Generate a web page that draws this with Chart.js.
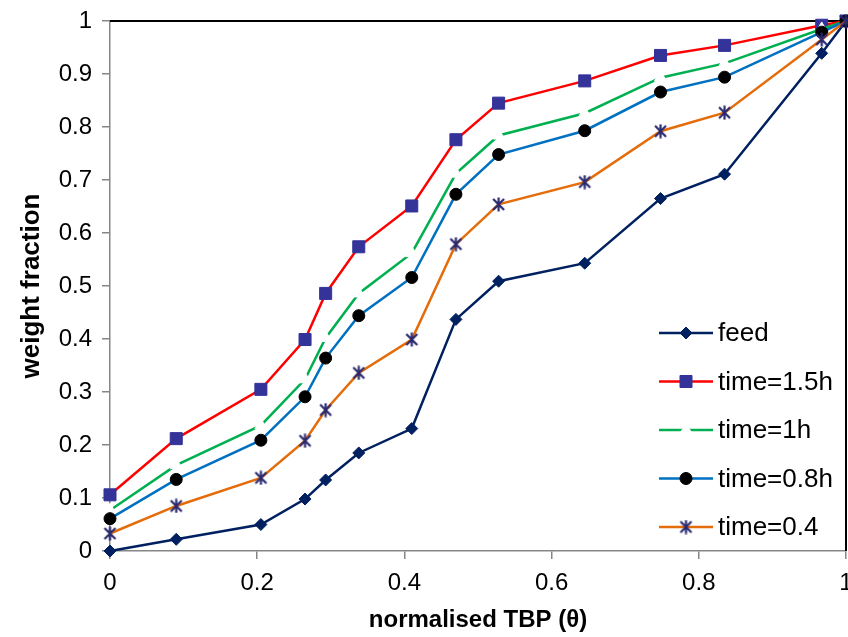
<!DOCTYPE html>
<html lang="en">
<head>
    <meta charset="utf-8" />
    <title>weight fraction vs normalised TBP</title>
    <style>
        body { margin: 0; background: #fff; }
        #wrap { width: 848px; height: 637px; }
    </style>
</head>
<body>
    <div id="wrap"><canvas id="tbpChart"></canvas></div>

    <script src="https://cdn.jsdelivr.net/npm/chart.js"></script>
    <script>
        // normalised TBP positions shared by every series
        const theta = [0, 0.09, 0.205, 0.265, 0.293, 0.338, 0.41, 0.47, 0.528, 0.645, 0.748, 0.835, 0.967, 1];

        const feed     = [0, 0.022, 0.050, 0.098, 0.134, 0.185, 0.231, 0.437, 0.509, 0.543, 0.665, 0.711, 0.939, 1];
        const time15h  = [0.106, 0.212, 0.305, 0.399, 0.486, 0.574, 0.651, 0.776, 0.845, 0.887, 0.935, 0.954, 0.992, 1];
        const time1h   = [0.077, 0.162, 0.237, 0.324, 0.402, 0.486, 0.562, 0.712, 0.784, 0.826, 0.893, 0.920, 0.985, 1];
        const time08h  = [0.061, 0.135, 0.209, 0.291, 0.364, 0.444, 0.516, 0.673, 0.748, 0.793, 0.866, 0.894, 0.979, 1];
        const time04   = [0.033, 0.085, 0.138, 0.208, 0.266, 0.336, 0.399, 0.579, 0.654, 0.696, 0.792, 0.827, 0.965, 1];

        const seriesNames = ['feed', 'time=1.5h', 'time=1h', 'time=0.8h', 'time=0.4'];
        const xTicks = [0, 0.2, 0.4, 0.6, 0.8, 1];
        const yTicks = [0, 0.1, 0.2, 0.3, 0.4, 0.5, 0.6, 0.7, 0.8, 0.9, 1];

        Chart.defaults.font.family = '"Liberation Sans", Arial, sans-serif';
        Chart.defaults.color = '#000';

        // excel style asterisk marker (x with a vertical stroke)
        function makeAsterisk(color) {
            const c = document.createElement('canvas');
            c.width = 15; c.height = 15;
            const g = c.getContext('2d');
            g.strokeStyle = color;
            g.lineWidth = 2.2;
            g.beginPath();
            g.moveTo(2, 2); g.lineTo(13, 13);
            g.moveTo(13, 2); g.lineTo(2, 13);
            g.moveTo(7.5, 0.5); g.lineTo(7.5, 14.5);
            g.stroke();
            return c;
        }
        const asterisk = makeAsterisk('#2a2a70');

        const toPoints = ys => ys.map((y, i) => ({ x: theta[i], y }));

        const datasets = [
            { label: seriesNames[0], data: toPoints(feed), borderColor: '#002060',
              pointStyle: 'rectRot', pointRadius: 6, pointBackgroundColor: '#002060', pointBorderColor: '#002060', order: 5 },
            { label: seriesNames[1], data: toPoints(time15h), borderColor: '#ff0000',
              pointStyle: 'rect', pointRadius: 8.5, pointBackgroundColor: '#333399', pointBorderColor: '#333399', order: 4 },
            { label: seriesNames[2], data: toPoints(time1h), borderColor: '#00b050',
              pointStyle: 'triangle', pointRadius: 7, pointBackgroundColor: '#fff', pointBorderColor: '#fff', order: 3 },
            { label: seriesNames[3], data: toPoints(time08h), borderColor: '#0070c0',
              pointStyle: 'circle', pointRadius: 6, pointBackgroundColor: '#000', pointBorderColor: '#000', order: 2 },
            { label: seriesNames[4], data: toPoints(time04), borderColor: '#e46c0a',
              pointStyle: asterisk, pointRadius: 7, pointBackgroundColor: '#2a2a70', pointBorderColor: '#2a2a70', order: 1 }
        ];
        datasets.forEach(d => { d.borderWidth = 2.5; d.pointBorderWidth = 1; d.tension = 0; d.fill = false; d.clip = false; });

        // black frame on top and right, legend drawn inside the plot
        const framePlugin = {
            id: 'framePlugin',
            beforeDatasetsDraw(chart) {
                const { ctx, chartArea: a } = chart;
                ctx.save();
                ctx.strokeStyle = '#000';
                ctx.lineWidth = 2;
                ctx.beginPath();
                ctx.moveTo(a.left, a.top);
                ctx.lineTo(a.right, a.top);
                ctx.lineTo(a.right, a.bottom);
                ctx.stroke();
                ctx.restore();
            },
            afterDraw(chart) {
                const { ctx, chartArea: a } = chart;
                ctx.save();
                const x0 = a.right - 187, x1 = a.right - 133, mx = (x0 + x1) / 2;
                ctx.font = '26px "Liberation Sans", Arial, sans-serif';
                ctx.textBaseline = 'middle';
                ctx.textAlign = 'left';
                chart.data.datasets.forEach((ds, i) => {
                    const y = a.top + 312 + i * 48.5;
                    ctx.strokeStyle = ds.borderColor;
                    ctx.lineWidth = ds.borderWidth;
                    ctx.beginPath();
                    ctx.moveTo(x0, y);
                    ctx.lineTo(x1, y);
                    ctx.stroke();
                    ctx.fillStyle = ds.pointBackgroundColor;
                    ctx.strokeStyle = ds.pointBorderColor;
                    ctx.lineWidth = 1;
                    Chart.helpers.drawPoint(ctx, { pointStyle: ds.pointStyle, radius: ds.pointRadius, rotation: 0, borderWidth: 1 }, mx, y);
                    ctx.fillStyle = '#000';
                    ctx.fillText(ds.label, x1 + 5, y + 1);
                });
                ctx.restore();
            }
        };

        const ctx = document.getElementById('tbpChart').getContext('2d');
        new Chart(ctx, {
            type: 'line',
            data: { datasets },
            options: {
                responsive: true,
                maintainAspectRatio: false,
                animation: false,
                layout: { autoPadding: false, padding: { top: 21, right: 2, left: 0, bottom: 0 } },
                plugins: { legend: { display: false }, tooltip: { enabled: false } },
                scales: {
                    x: {
                        type: 'linear', min: 0, max: 1,
                        afterBuildTicks: s => { s.ticks = xTicks.map(v => ({ value: v })); },
                        afterFit: s => { s.height = 86; s.paddingLeft = 0; s.paddingRight = 0; },
                        ticks: { font: { size: 24 }, padding: 10, maxRotation: 0, callback: v => String(v) },
                        grid: { drawOnChartArea: false, tickLength: 8, color: '#868686', lineWidth: 1.5 },
                        border: { color: '#868686', width: 1.5 },
                        title: { display: true, text: 'normalised TBP (θ)', font: { size: 24, weight: 'bold' }, padding: { top: 0, bottom: 2 } }
                    },
                    y: {
                        type: 'linear', min: 0, max: 1,
                        afterBuildTicks: s => { s.ticks = yTicks.map(v => ({ value: v })); },
                        afterFit: s => { s.width = 110; s.paddingTop = 0; s.paddingBottom = 0; },
                        ticks: { font: { size: 24 }, padding: 10, callback: v => String(v) },
                        grid: { drawOnChartArea: false, tickLength: 8, color: '#868686', lineWidth: 1.5 },
                        border: { color: '#868686', width: 1.5 },
                        title: { display: true, text: 'weight fraction', font: { size: 26, weight: 'bold' }, padding: { top: 16, bottom: 0 } }
                    }
                }
            },
            plugins: [framePlugin]
        });
    </script>
</body>
</html>
